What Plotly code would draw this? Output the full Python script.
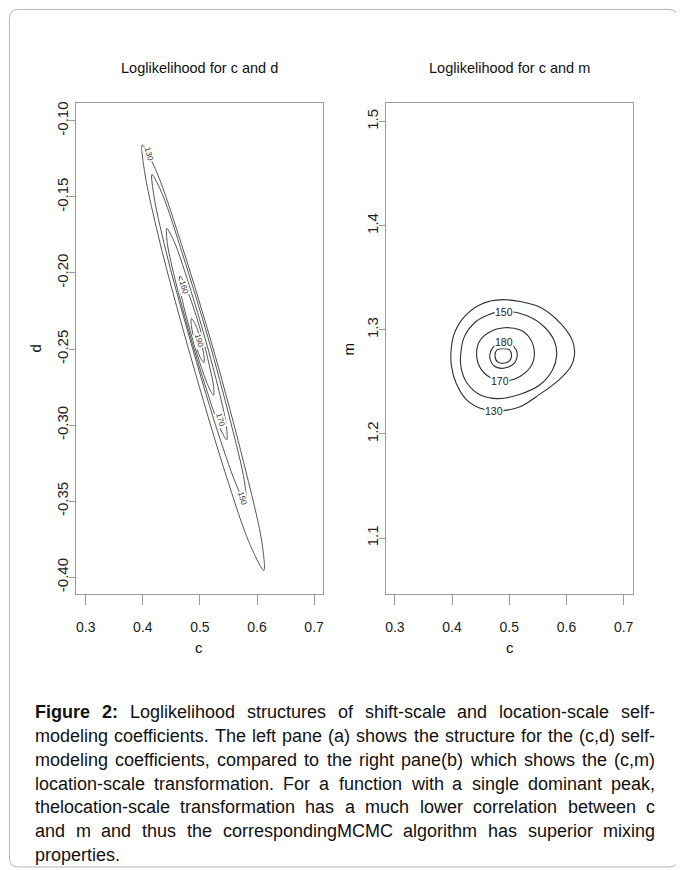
import plotly.graph_objects as go

# ---------------- data ----------------
# Left pane: loglikelihood contours in (c, d)
cd_c_130 = [0.612, 0.608, 0.576, 0.526, 0.470, 0.424, 0.399, 0.404, 0.435, 0.486, 0.541, 0.587]
cd_d_130 = [-0.3955, -0.3757, -0.3236, -0.2534, -0.1838, -0.1334, -0.1158, -0.1356, -0.1876, -0.2578, -0.3274, -0.3779]
cd_c_150 = [0.581, 0.578, 0.553, 0.514, 0.470, 0.435, 0.416, 0.420, 0.444, 0.484, 0.527, 0.563]
cd_d_150 = [-0.3524, -0.3370, -0.2967, -0.2422, -0.1881, -0.1490, -0.1352, -0.1506, -0.1909, -0.2454, -0.2995, -0.3386]
cd_c_170 = [0.547, 0.546, 0.531, 0.506, 0.478, 0.455, 0.442, 0.443, 0.458, 0.483, 0.511, 0.534]
cd_d_170 = [-0.3097, -0.2997, -0.2738, -0.2389, -0.2043, -0.1794, -0.1707, -0.1807, -0.2066, -0.2414, -0.2760, -0.3010]
cd_c_180 = [0.524, 0.524, 0.516, 0.503, 0.487, 0.473, 0.465, 0.464, 0.472, 0.486, 0.502, 0.516]
cd_d_180 = [-0.2803, -0.2746, -0.2599, -0.2402, -0.2208, -0.2068, -0.2020, -0.2077, -0.2224, -0.2421, -0.2615, -0.2755]
cd_c_190 = [0.507, 0.507, 0.501, 0.492, 0.485, 0.485, 0.491, 0.500]
cd_d_190 = [-0.2590, -0.2543, -0.2439, -0.2338, -0.2299, -0.2346, -0.2450, -0.2551]

cd_label_text = ["130", "160", "190", "170", "150"]
cd_label_c = [0.411, 0.472, 0.498, 0.536, 0.574]
cd_label_d = [-0.1219, -0.2095, -0.2445, -0.2970, -0.3484]

# Right pane: loglikelihood contours in (c, m)
cm_c_130 = [0.474, 0.448, 0.425, 0.407, 0.399, 0.398, 0.403, 0.419, 0.448, 0.489, 0.553, 0.590, 0.611, 0.614, 0.608, 0.587, 0.553, 0.518]
cm_m_130 = [1.222, 1.225, 1.233, 1.249, 1.265, 1.278, 1.295, 1.311, 1.324, 1.329, 1.322, 1.306, 1.289, 1.276, 1.265, 1.252, 1.238, 1.226]
cm_c_150 = [0.489, 0.529, 0.561, 0.579, 0.583, 0.576, 0.553, 0.518, 0.480, 0.448, 0.426, 0.416, 0.415, 0.422, 0.442, 0.466]
cm_m_150 = [1.318, 1.314, 1.303, 1.289, 1.276, 1.262, 1.247, 1.238, 1.234, 1.238, 1.249, 1.263, 1.276, 1.294, 1.308, 1.315]
cm_c_170 = [0.495, 0.471, 0.451, 0.443, 0.448, 0.466, 0.492, 0.518, 0.536, 0.544, 0.538, 0.518]
cm_m_170 = [1.251, 1.253, 1.262, 1.275, 1.289, 1.298, 1.302, 1.300, 1.292, 1.278, 1.265, 1.255]
cm_c_180 = [0.489, 0.503, 0.512, 0.514, 0.509, 0.497, 0.486, 0.474, 0.467, 0.466, 0.470, 0.478]
cm_m_180 = [1.287, 1.286, 1.281, 1.275, 1.268, 1.264, 1.263, 1.265, 1.271, 1.276, 1.282, 1.286]
cm_c_190 = [0.490, 0.500, 0.504, 0.500, 0.490, 0.480, 0.475, 0.479]
cm_m_190 = [1.282, 1.281, 1.275, 1.270, 1.268, 1.269, 1.275, 1.281]

cm_label_text = ["150", "180", "170", "130"]
cm_label_c = [0.490, 0.490, 0.484, 0.474]
cm_label_m = [1.317, 1.288, 1.251, 1.222]

# tick values / labels
c_ticks = [0.3, 0.4, 0.5, 0.6, 0.7]
c_ticktext = ["0.3", "0.4", "0.5", "0.6", "0.7"]
d_ticks = [-0.40, -0.35, -0.30, -0.25, -0.20, -0.15, -0.10]
d_ticktext = ["-0.40", "-0.35", "-0.30", "-0.25", "-0.20", "-0.15", "-0.10"]
m_ticks = [1.1, 1.2, 1.3, 1.4, 1.5]
m_ticktext = ["1.1", "1.2", "1.3", "1.4", "1.5"]

titles = ["Loglikelihood for c and d", "Loglikelihood for c and m"]

caption_lines = [
    "Figure 2: Loglikelihood structures of shift-scale and location-scale self-",
    "modeling coefficients. The left pane (a) shows the structure for the (c,d) self-",
    "modeling coefficients, compared to the right pane(b) which shows the (c,m)",
    "location-scale transformation. For a function with a single dominant peak,",
    "thelocation-scale transformation has a much lower correlation between c",
    "and m and thus the correspondingMCMC algorithm has superior mixing",
    "properties.",
]

# ---------------- layout helpers ----------------
OFF = 8                      # page body margin of the browser
W, H = 684 - OFF, 870 - OFF
def px(x):
    return (x - OFF) / W
def py(y):
    return 1 - (y - OFF) / H

LINE = "#2e2e2e"
FRAME = "#9a9a9a"
FONT = "Liberation Sans, Arial, sans-serif"

fig = go.Figure()

def add_loop(xs, ys, xa, ya, color=LINE, width=1.1):
    fig.add_trace(go.Scatter(
        x=list(xs) + [xs[0]], y=list(ys) + [ys[0]], mode="lines",
        line=dict(color=color, width=width, shape="spline", smoothing=0.9),
        xaxis=xa, yaxis=ya, hoverinfo="skip", showlegend=False))

for cx, cy in [(cd_c_130, cd_d_130), (cd_c_150, cd_d_150), (cd_c_170, cd_d_170),
               (cd_c_180, cd_d_180), (cd_c_190, cd_d_190)]:
    add_loop(cx, cy, "x", "y", "#555555", 1)
for cx, cy in [(cm_c_130, cm_m_130), (cm_c_150, cm_m_150), (cm_c_170, cm_m_170),
               (cm_c_180, cm_m_180), (cm_c_190, cm_m_190)]:
    add_loop(cx, cy, "x2", "y2")

ydom = [py(594), py(102)]
axis_common = dict(showgrid=False, zeroline=False, showline=True, mirror=True,
                   linecolor=FRAME, linewidth=1, ticks="outside",
                   tickcolor=FRAME, tickwidth=1)
xfont = dict(family=FONT, size=14, color="#222")
yfont = dict(family=FONT, size=15, color="#222")
xax = dict(tickmode="array", tickvals=c_ticks, ticktext=c_ticktext, tickfont=xfont,
           ticklen=10, ticklabelstandoff=10, **axis_common)
yax_common = dict(tickangle=-90, tickfont=yfont, ticklen=6, ticklabelstandoff=-5,
                  **axis_common)

fig.update_layout(
    width=W, height=H, margin=dict(l=0, r=0, t=0, b=0),
    paper_bgcolor="white", plot_bgcolor="white", showlegend=False,
    hovermode=False,
    xaxis=dict(domain=[px(75), px(323)], range=[0.2826, 0.7157], anchor="y", **xax),
    yaxis=dict(domain=ydom, range=[-0.4112, -0.0882], anchor="x",
               tickmode="array", tickvals=d_ticks, ticktext=d_ticktext, **yax_common),
    xaxis2=dict(domain=[px(386), px(634)], range=[0.2843, 0.7166], anchor="y2", **xax),
    yaxis2=dict(domain=ydom, range=[1.046, 1.518], anchor="x2",
                tickmode="array", tickvals=m_ticks, ticktext=m_ticktext, **yax_common),
)

ann = []
# subplot titles and axis titles
for t, cxp in zip(titles, [199, 510]):
    ann.append(dict(text=t, x=px(cxp), y=py(67), xref="paper", yref="paper",
                    showarrow=False, xanchor="center", yanchor="middle",
                    font=dict(family=FONT, size=14.5, color="#111")))
for cxp in [199, 510]:
    ann.append(dict(text="c", x=px(cxp), y=py(647), xref="paper", yref="paper",
                    showarrow=False, xanchor="center", yanchor="middle",
                    font=dict(family=FONT, size=15, color="#111")))
for t, xp in [("d", 35), ("m", 349)]:
    ann.append(dict(text=t, x=px(xp), y=py(348), xref="paper", yref="paper",
                    showarrow=False, xanchor="center", yanchor="middle", textangle=-90,
                    font=dict(family=FONT, size=15, color="#111")))

# contour labels
for t, c, d in zip(cd_label_text, cd_label_c, cd_label_d):
    ann.append(dict(text=t, x=c, y=d, xref="x", yref="y", showarrow=False,
                    textangle=74, bgcolor="white", borderpad=0,
                    font=dict(family=FONT, size=8, color="#333")))
for t, c, m in zip(cm_label_text, cm_label_c, cm_label_m):
    ann.append(dict(text=t, x=c, y=m, xref="x2", yref="y2", showarrow=False,
                    bgcolor="white", borderpad=0,
                    font=dict(family=FONT, size=10.5, color="#222")))

# caption, justified word by word (Liberation Sans = Arial metrics)
REG = {'a':556,'b':556,'c':500,'d':556,'e':556,'f':278,'g':556,'h':556,'i':222,'j':222,
       'k':500,'l':222,'m':833,'n':556,'o':556,'p':556,'q':556,'r':333,'s':500,'t':278,
       'u':556,'v':500,'w':722,'x':500,'y':500,'z':500,'F':611,'L':556,'T':611,'M':833,
       'C':722,' ':278,',':278,'.':278,':':278,'(':333,')':333,'-':333}
BLD = {'F':611,'i':278,'g':611,'u':611,'r':389,'e':556,'2':556,':':333,' ':278}
CAP_FONT = "Liberation Sans, Arial, sans-serif"
CAP_SIZE = 18

def wwidth(word, bold):
    tab = BLD if bold else REG
    return sum(tab.get(ch, 556) for ch in word) / 1000 * CAP_SIZE

x0, x1 = 33, 655
for i, line in enumerate(caption_lines):
    words = line.split(" ")
    bold_flags = [i == 0 and k < 2 for k in range(len(words))]
    widths = [wwidth(w, b) for w, b in zip(words, bold_flags)]
    if i == len(caption_lines) - 1 or len(words) == 1:
        gap = 278 / 1000 * CAP_SIZE
    else:
        gap = ((x1 - x0) - sum(widths)) / (len(words) - 1)
    y = 712 + i * 23.85
    xc = x0
    for w, b, wd in zip(words, bold_flags, widths):
        ann.append(dict(text=("<b>%s</b>" % w) if b else w, x=px(xc), y=py(y),
                        xref="paper", yref="paper", showarrow=False,
                        xanchor="left", yanchor="middle", borderpad=0,
                        font=dict(family=CAP_FONT, size=CAP_SIZE, color="#111")))
        xc += wd + gap

fig.update_layout(annotations=ann)

# rounded outer frame (the page body starts at 8 px, so the frame starts there)
def rrect(xa, ya, xb, yb, r):
    pts = [
        f"M {px(xa + r)} {py(ya)}", f"L {px(xb - r)} {py(ya)}",
        f"Q {px(xb)} {py(ya)} {px(xb)} {py(ya + r)}", f"L {px(xb)} {py(yb - r)}",
        f"Q {px(xb)} {py(yb)} {px(xb - r)} {py(yb)}", f"L {px(xa + r)} {py(yb)}",
        f"Q {px(xa)} {py(yb)} {px(xa)} {py(yb - r)}", f"L {px(xa)} {py(ya + r)}",
        f"Q {px(xa)} {py(ya)} {px(xa + r)} {py(ya)}", "Z"]
    return " ".join(pts)

fig.add_shape(type="path", path=rrect(8.5, 8.5, 679, 867, 9), xref="paper", yref="paper",
              line=dict(color="#b5b5b5", width=1), layer="below")

fig.write_html("out.html")
